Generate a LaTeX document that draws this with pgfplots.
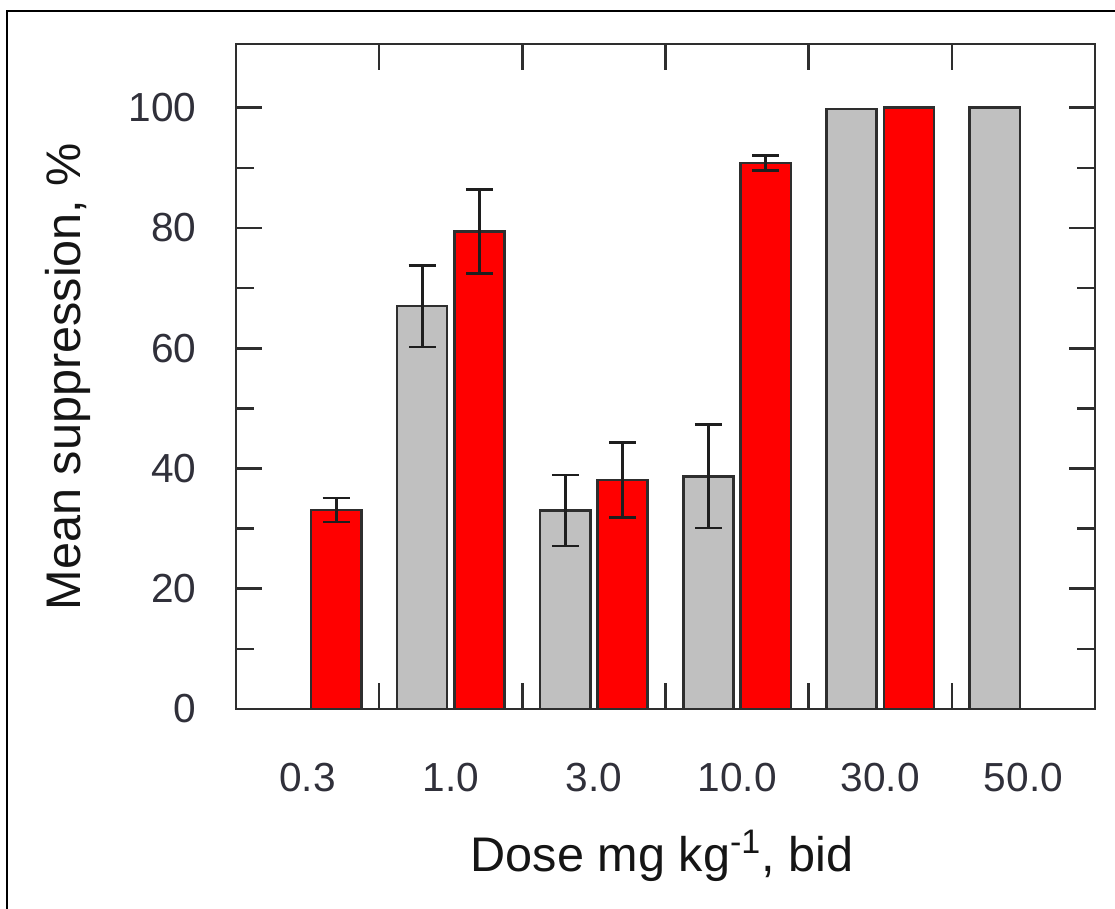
\documentclass[border=0pt]{standalone}
\usepackage{pgfplots}
\pgfplotsset{compat=1.18}
\usepackage{fontspec}
\setmainfont{Liberation Sans}
\definecolor{axgray}{HTML}{2E2E2E}
\definecolor{errgray}{HTML}{1E1E1E}
\definecolor{barred}{HTML}{FF0000}
\definecolor{bargray}{HTML}{C0C0C0}
\definecolor{ticktext}{HTML}{30303A}
\definecolor{labeltext}{HTML}{151515}

\pgfplotstableread{
x y e
0.8 67.0 6.8
1.8 33.0 5.9
2.8 38.7 8.6
}\grayerr
\pgfplotstableread{
x y
3.8 99.8
4.8 100.0
}\graynoerr
\pgfplotstableread{
x y e
0.2 33.1 2.0
1.2 79.4 7.0
2.2 38.1 6.2
3.2 90.8 1.3
}\rederr
\pgfplotstableread{
x y
4.2 100.0
}\rednoerr

\begin{document}
\begin{tikzpicture}
\useasboundingbox (0,0) rectangle (557.5pt,454.5pt);
\draw[line width=1pt,black] (3.5pt,0pt) -- (3.5pt,449pt) -- (557.5pt,449pt);
\begin{axis}[
  at={(118pt,100pt)}, anchor=south west,
  scale only axis, width=429.5pt, height=332.5pt,
  xmin=-0.5, xmax=5.5, ymin=0, ymax=110.6,
  ybar, bar width=0.35,
  axis line style={line width=1.3pt, draw=axgray},
  tick style={line width=1.3pt, draw=axgray},
  tick align=inside, major tick length=13pt, minor tick length=9pt,
  xtick={0.5,1.5,2.5,3.5,4.5}, xticklabels={},
  extra x ticks={0,1,2,3,4,5},
  extra x tick labels={0.3,1.0,3.0,10.0,30.0,50.0},
  extra x tick style={tick style={draw=none}},
  ytick={0,20,40,60,80,100}, minor ytick={10,30,50,70,90},
  /pgf/number format/assume math mode=true,
  ticklabel style={font=\fontsize{20.3}{24}\selectfont, text=ticktext},
  yticklabel style={xshift=-16.3pt},
  xticklabel style={yshift=-23.5pt},
  xlabel={Dose mg kg\textsuperscript{-1}, bid},
  ylabel={Mean suppression, \%},
  label style={font=\fontsize{24.3}{29}\selectfont, text=labeltext},
  xlabel style={at={(axis description cs:0.496,-0.2451)}, anchor=base},
  ylabel style={at={(axis description cs:-0.1816,0.5)}, anchor=base},
]
\addplot[bar shift=0pt, fill=bargray, draw=axgray, line width=1.25pt,
  error bars/.cd, y dir=both, y explicit,
  error bar style={line width=1.4pt, draw=errgray},
  error mark options={rotate=90, mark size=6.75pt, line width=1.4pt, draw=errgray}]
  table[x=x, y=y, y error=e] {\grayerr};
\addplot[bar shift=0pt, fill=bargray, draw=axgray, line width=1.25pt]
  table[x=x, y=y] {\graynoerr};
\addplot[bar shift=0pt, fill=barred, draw=axgray, line width=1.25pt,
  error bars/.cd, y dir=both, y explicit,
  error bar style={line width=1.4pt, draw=errgray},
  error mark options={rotate=90, mark size=6.75pt, line width=1.4pt, draw=errgray}]
  table[x=x, y=y, y error=e] {\rederr};
\addplot[bar shift=0pt, fill=barred, draw=axgray, line width=1.25pt]
  table[x=x, y=y] {\rednoerr};
\end{axis}
\end{tikzpicture}
\end{document}
